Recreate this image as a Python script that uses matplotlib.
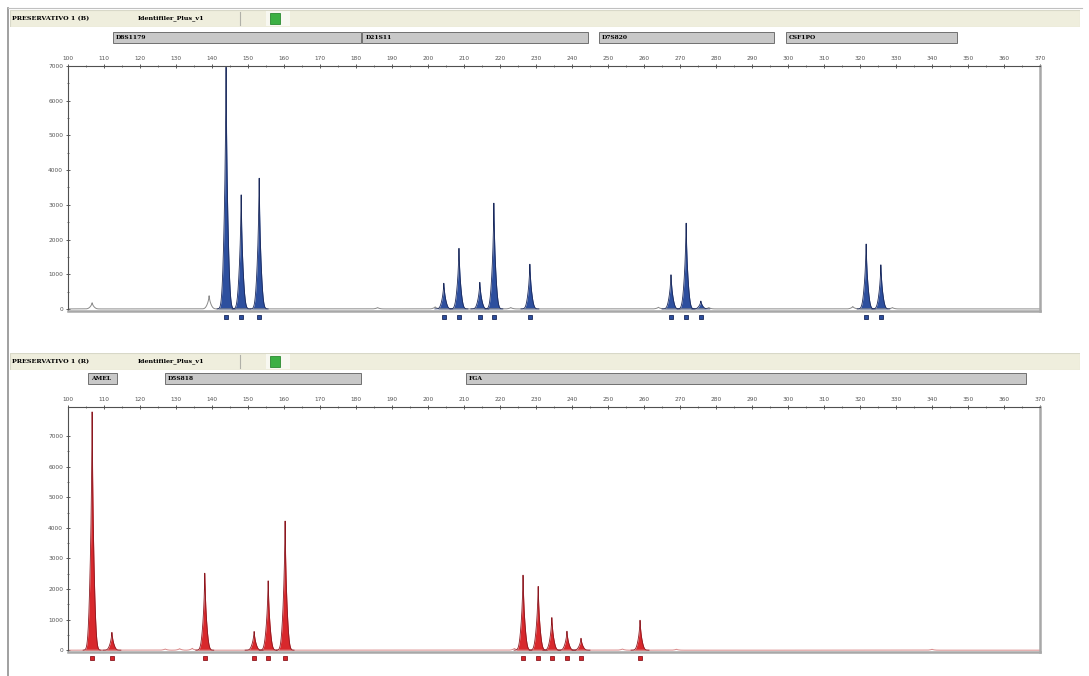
import numpy as np
import matplotlib
matplotlib.use('Agg')
from matplotlib import pyplot as plt
from matplotlib.patches import Rectangle

# ---- data ----
sample_top = 'PRESERVATIVO 1 (B)'
sample_bot = 'PRESERVATIVO 1 (R)'
panel_name = 'Identifiler_Plus_v1'

# blue dye: allele sizes (bp) and heights (RFU)
blue_sizes = [143.9, 148.1, 153.1, 204.4, 208.6, 214.4, 218.3, 228.3, 267.5, 271.7, 275.8, 321.7, 325.8]
blue_heights = [7100, 3300, 3800, 750, 1770, 770, 3050, 1300, 1000, 2500, 230, 1900, 1280]
# small unlabelled bumps on the blue baseline
blue_noise_sizes = [106.7, 139.2, 186.0, 202.0, 223.0, 264.0, 278.0, 318.0, 329.0]
blue_noise_heights = [180, 380, 40, 60, 40, 50, 40, 70, 40]

# red dye
red_sizes = [106.7, 112.2, 138.0, 151.7, 155.6, 160.3, 226.4, 230.6, 234.4, 238.6, 242.5, 258.9]
red_heights = [7900, 590, 2550, 620, 2290, 4280, 2480, 2120, 1080, 620, 390, 980]
red_noise_sizes = [127.0, 131.0, 134.5, 224.0, 254.0, 269.0, 340.0]
red_noise_heights = [40, 50, 60, 60, 40, 30, 30]

# marker bins shown above each panel (start, end in bp)
blue_markers = ['D8S1179', 'D21S11', 'D7S820', 'CSF1PO']
blue_marker_ranges = [(112.5, 181.5), (181.8, 244.5), (247.5, 296.0), (299.5, 347.0)]
red_markers = ['AMEL', 'D5S818', 'FGA']
red_marker_ranges = [(105.5, 113.5), (127.0, 181.5), (210.5, 366.0)]

W, H = 1089, 676
fig = plt.figure(figsize=(W / 100, H / 100), dpi=100)
fig.patch.set_facecolor('white')


def px(x0, y0, x1, y1):
    # pixel box (top-left origin) -> figure fraction rect
    return [x0 / W, 1 - y1 / H, (x1 - x0) / W, (y1 - y0) / H]


def peak(x, s, h):
    # spiky top on a slightly wider foot
    d = x - s
    return h * (0.55 * np.exp(-np.abs(d) / 0.22) + 0.45 * np.exp(-0.5 * (d / 0.6) ** 2))


def header(y0, sample):
    hax = fig.add_axes(px(10, y0, 1080, y0 + 17))
    hax.set_xlim(0, 1070); hax.set_ylim(0, 1)
    hax.axis('off')
    hax.add_patch(Rectangle((0, 0), 1070, 1, facecolor='#efeedd', edgecolor='#d8d8c8', lw=0.8))
    hax.text(2, 0.5, sample, fontsize=4.6, fontweight='bold', va='center', family='DejaVu Serif')
    hax.text(128, 0.5, panel_name, fontsize=4.6, fontweight='bold', va='center', family='DejaVu Serif')
    hax.plot([230, 230], [0.1, 0.9], color='#b0b0a8', lw=0.8)
    hax.add_patch(Rectangle((256, 0.05), 24, 0.9, facecolor='white', edgecolor='none', alpha=0.6))
    hax.add_patch(Rectangle((260, 0.2), 10, 0.65, facecolor='#3cb043', edgecolor='#2a8a30', lw=0.6))


def panel(y0, y1, ymax, sizes, heights, nsizes, nheights, markers, ranges, fill, edge, base):
    ax = fig.add_axes(px(68, y0, 1040, y1))
    x = np.linspace(97, 372, 16000)
    base_y = np.zeros_like(x)
    for s, h in zip(nsizes, nheights):
        base_y += peak(x, s, h)
    ax.plot(x, base_y, color=base, lw=0.7)
    for s, h in zip(sizes, heights):
        m = np.abs(x - s) < 2.5
        yy = peak(x[m], s, h)
        ax.fill_between(x[m], 0, yy, color=fill, lw=0)
        ax.plot(x[m], yy, color=edge, lw=0.6)
    ax.set_xlim(100, 370)
    ax.set_ylim(-60, ymax)
    ax.xaxis.tick_top()
    ax.set_xticks(np.arange(100, 371, 10))
    ax.set_xticks(np.arange(100, 371, 5), minor=True)
    ax.set_yticks(np.arange(0, 7001, 1000))
    ax.set_yticks(np.arange(0, 7001, 500), minor=True)
    ax.tick_params(axis='both', which='major', labelsize=4.2, length=3, direction='inout',
                   colors='#404040', labelcolor='#555555', width=0.6, pad=2)
    ax.tick_params(axis='both', which='minor', length=2, direction='inout', colors='#404040', width=0.5)
    for sp in ['left', 'top']:
        ax.spines[sp].set_color('#505050'); ax.spines[sp].set_linewidth(0.8)
    for sp in ['right', 'bottom']:
        ax.spines[sp].set_color('#a8a8a8'); ax.spines[sp].set_linewidth(1.8)
    # allele call boxes under the peaks
    ax.plot(sizes, [-0.025] * len(sizes), 's', ms=3.4, mfc=fill, mec=edge, mew=0.6, clip_on=False,
            transform=ax.get_xaxis_transform())
    # marker bins above the axis
    for name, (a, b) in zip(markers, ranges):
        ax.add_patch(Rectangle((a, 1.095), b - a, 0.045, transform=ax.get_xaxis_transform(),
                               facecolor='#c8c8c8', edgecolor='#707070', lw=0.7, clip_on=False))
        ax.text(a + 0.8, 1.117, name, transform=ax.get_xaxis_transform(), fontsize=4.3,
                fontweight='bold', va='center', family='DejaVu Serif', clip_on=False)
    return ax


header(10, sample_top)
panel(66, 311, 7000, blue_sizes, blue_heights, blue_noise_sizes, blue_noise_heights,
      blue_markers, blue_marker_ranges, '#2d4f9e', '#1b2a5c', '#8a8a8a')

header(353, sample_bot)
panel(407, 652, 7950, red_sizes, red_heights, red_noise_sizes, red_noise_heights,
      red_markers, red_marker_ranges, '#d8282c', '#8c1820', '#d88888')

# window frame lines
fig.add_artist(plt.Line2D([8 / W, 8 / W], [0, 1 - 8 / H], color='#909090', lw=1.2))
fig.add_artist(plt.Line2D([8 / W, 1082 / W], [1 - 8 / H, 1 - 8 / H], color='#c0c0c0', lw=0.8))

fig.savefig('out.png', dpi=100, facecolor='white')
